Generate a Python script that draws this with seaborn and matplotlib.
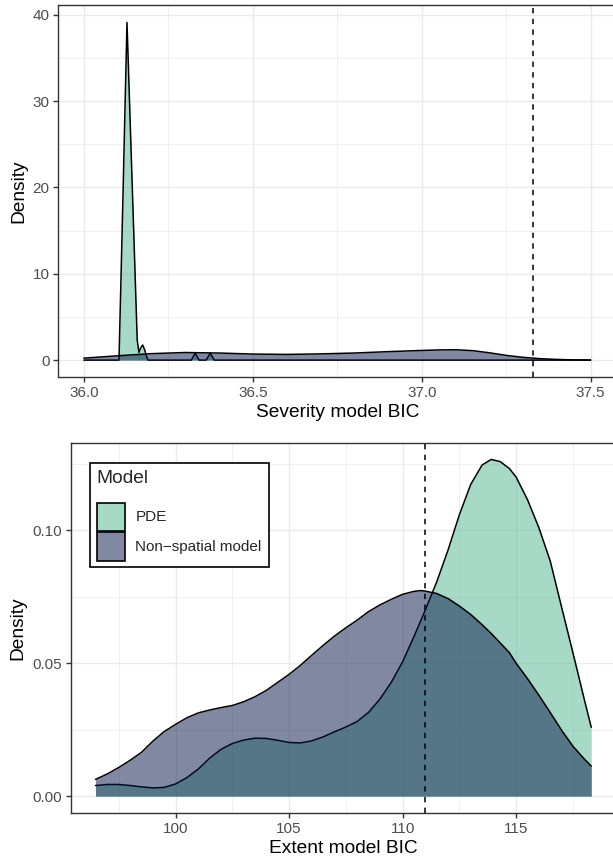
import numpy as np
import pandas as pd
import matplotlib
matplotlib.use("Agg")
import matplotlib.pyplot as plt
from matplotlib.patches import Patch, Rectangle
from matplotlib.legend_handler import HandlerPatch
from matplotlib.ticker import MultipleLocator, FormatStrFormatter
import seaborn as sns

# ---------------- data ----------------
models = ["PDE", "Non\u2212spatial model"]

# Severity model BIC densities
sev_pde_x = [36.000, 36.104, 36.110, 36.116, 36.122, 36.1277, 36.134, 36.142,
             36.150, 36.158, 36.163, 36.168, 36.174, 36.180, 36.185, 36.190,
             36.318, 36.3296, 36.341, 36.362, 36.374, 36.386, 37.500]
sev_pde_y = [0.0, 0.0, 9.5, 19.3, 29.5, 39.1, 31.4, 21.7,
             12.0, 2.3, 0.9, 1.4, 1.75, 1.2, 0.5, 0.0,
             0.0, 0.8, 0.0, 0.0, 0.8, 0.0, 0.0]
sev_ns_x = [36.0, 36.1, 36.2, 36.3, 36.4, 36.5, 36.6, 36.7, 36.8, 36.9, 37.0,
            37.05, 37.1, 37.15, 37.2, 37.25, 37.3, 37.35, 37.4, 37.45, 37.5]
sev_ns_y = [0.23, 0.50, 0.75, 0.88, 0.82, 0.70, 0.66, 0.72, 0.82, 0.98, 1.12,
            1.18, 1.20, 1.10, 0.85, 0.55, 0.32, 0.17, 0.08, 0.03, 0.01]
sev_ref = 37.329

# Extent model BIC densities
ext_x = [96.47, 97.0, 97.5, 98.0, 98.5, 99.0, 99.5, 100.0, 100.5, 101.0,
         101.5, 102.0, 102.5, 103.0, 103.5, 104.0, 104.5, 105.0, 105.5, 106.0,
         106.5, 107.0, 107.5, 108.0, 108.5, 109.0, 109.5, 110.0, 110.5, 110.8,
         111.0, 111.5, 112.0, 112.5, 113.0, 113.5, 113.9, 114.3, 114.7, 115.0,
         115.5, 116.0, 116.5, 117.0, 117.5, 118.0, 118.31]
ext_pde_y = [0.0040, 0.0044, 0.0044, 0.0040, 0.0035, 0.0031, 0.0033, 0.0046, 0.0070, 0.0102,
             0.0143, 0.0176, 0.0198, 0.0211, 0.0218, 0.0217, 0.0210, 0.0202, 0.0200, 0.0208,
             0.0223, 0.0242, 0.0260, 0.0281, 0.0315, 0.0365, 0.0428, 0.0505, 0.0600, 0.0660,
             0.0700, 0.0805, 0.0925, 0.1058, 0.1172, 0.1245, 0.1266, 0.1258, 0.1232, 0.1200,
             0.1115, 0.1010, 0.0885, 0.0712, 0.0540, 0.0365, 0.0259]
ext_ns_y = [0.0063, 0.0084, 0.0108, 0.0135, 0.0165, 0.0207, 0.0243, 0.0270, 0.0295, 0.0313,
            0.0324, 0.0333, 0.0341, 0.0355, 0.0374, 0.0398, 0.0428, 0.0458, 0.0492, 0.0530,
            0.0567, 0.0602, 0.0633, 0.0662, 0.0694, 0.0719, 0.0740, 0.0759, 0.0770, 0.0773,
            0.0771, 0.0762, 0.0743, 0.0715, 0.0683, 0.0645, 0.0612, 0.0576, 0.0540, 0.0500,
            0.0442, 0.0380, 0.0315, 0.0248, 0.0188, 0.0140, 0.0113]
ext_ref = 110.98

pde_color = "#51B78F"
ns_color = "#031347"
fill_alpha = 0.5

TICK_FS = 11
TITLE_FS = 13.75

# ---------------- style ----------------
sns.set_theme(style="white")
plt.rcParams["font.family"] = ["Liberation Sans", "DejaVu Sans"]

fig = plt.figure(figsize=(6.13, 8.63), dpi=100)
ax1 = fig.add_axes([58.5 / 613, 1 - 377 / 863, (616 - 58.5) / 613, (377 - 5.5) / 863])
ax2 = fig.add_axes([70.5 / 613, 1 - 813 / 863, (616 - 70.5) / 613, (813 - 442.7) / 863])


def draw_density(ax, x, y, color, z):
    ax.fill_between(x, 0, y, color=color, alpha=fill_alpha, lw=0, zorder=z)
    df = pd.DataFrame({"x": x, "y": y})
    sns.lineplot(data=df, x="x", y="y", ax=ax, color="black", lw=1.1,
                 zorder=z + 0.5, sort=False, estimator=None)


def style_axes(ax, xmaj, xmin, ymaj, ymin):
    ax.xaxis.set_major_locator(MultipleLocator(xmaj))
    ax.xaxis.set_minor_locator(MultipleLocator(xmin))
    ax.yaxis.set_major_locator(MultipleLocator(ymaj))
    ax.yaxis.set_minor_locator(MultipleLocator(ymin))
    ax.grid(which="major", color="#EBEBEB", lw=1.07, zorder=0)
    ax.grid(which="minor", color="#EBEBEB", lw=0.53, zorder=0)
    ax.set_axisbelow(True)
    for s in ax.spines.values():
        s.set_color("#333333")
        s.set_linewidth(1.0)
    ax.tick_params(which="major", length=3.8, width=1.0, color="#333333",
                   labelsize=TICK_FS, labelcolor="#4D4D4D", pad=2.5,
                   bottom=True, left=True)
    ax.tick_params(which="minor", length=0, bottom=False, left=False)
    ax.set_facecolor("white")


# ---- top panel ----
draw_density(ax1, sev_pde_x, sev_pde_y, pde_color, 2)
draw_density(ax1, sev_ns_x, sev_ns_y, ns_color, 3)
ax1.axvline(sev_ref, color="black", lw=1.1, ls=(0, (3.5, 3.5)), zorder=5)
ax1.set_xlim(35.925, 37.575)
ax1.set_ylim(-1.955, 41.06)
style_axes(ax1, 0.5, 0.25, 10, 5)
ax1.xaxis.set_major_formatter(FormatStrFormatter("%.1f"))
ax1.set_xlabel("Severity model BIC", fontsize=TITLE_FS, color="black", labelpad=3)
ax1.set_ylabel("Density", fontsize=TITLE_FS, color="black", labelpad=4)

# ---- bottom panel ----
draw_density(ax2, ext_x, ext_pde_y, pde_color, 2)
draw_density(ax2, ext_x, ext_ns_y, ns_color, 3)
ax2.axvline(ext_ref, color="black", lw=1.1, ls=(0, (3.5, 3.5)), zorder=5)
ax2.set_xlim(95.37, 119.40)
ax2.set_ylim(-0.00633, 0.1329)
style_axes(ax2, 5, 2.5, 0.05, 0.025)
ax2.yaxis.set_major_formatter(FormatStrFormatter("%.2f"))
ax2.set_xlabel("Extent model BIC", fontsize=TITLE_FS, color="black", labelpad=3)
ax2.set_ylabel("Density", fontsize=TITLE_FS, color="black", labelpad=4)


def full_rect(legend, orig_handle, xdescent, ydescent, width, height, fontsize):
    return Rectangle((-xdescent, -ydescent), width, height)


handles = [Patch(facecolor=matplotlib.colors.to_rgba(pde_color, fill_alpha), edgecolor="black", lw=1.2),
           Patch(facecolor=matplotlib.colors.to_rgba(ns_color, fill_alpha), edgecolor="black", lw=1.2)]
leg = ax2.legend(handles, models, title="Model", loc="upper left",
                 bbox_to_anchor=((90 - 70.5) / 545.5, 1 - (462.7 - 442.7) / 370.3),
                 borderaxespad=0, fontsize=TICK_FS, title_fontsize=TITLE_FS,
                 handlelength=1.87, handleheight=2.47, labelspacing=0.1,
                 handletextpad=0.65, borderpad=0.45, fancybox=False,
                 frameon=True, edgecolor="black", framealpha=1, alignment="left",
                 handler_map={Patch: HandlerPatch(patch_func=full_rect)})
leg._legend_box.sep = 11.5
leg.get_frame().set_linewidth(1.2)
leg.set_zorder(10)

fig.savefig("out.png", dpi=100)
